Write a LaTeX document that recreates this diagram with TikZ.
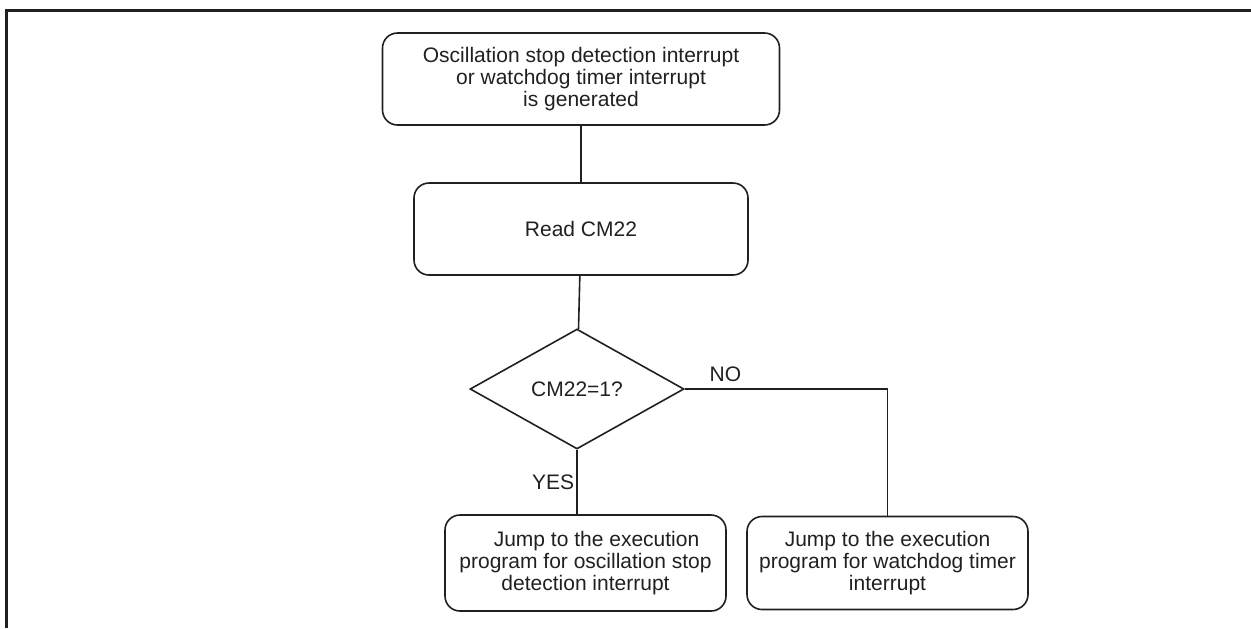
\documentclass[tikz,border=0pt]{standalone}
\usepackage{fontspec}
\setmainfont{Liberation Sans}
\usetikzlibrary{shapes.geometric}
\definecolor{FlowBlack}{RGB}{35,31,32}

\begin{document}
\begin{tikzpicture}[x=0.5pt, y=-0.5pt,
  flowbox/.style={draw=FlowBlack, line width=0.8pt, rounded corners=7.5pt, align=center, inner sep=2pt, text=FlowBlack, font=\fontsize{10.5}{11}\selectfont},
  flowdia/.style={draw=FlowBlack, line width=0.8pt, diamond, inner sep=0pt, text=FlowBlack, font=\fontsize{10.5}{11}\selectfont},
  flowline/.style={draw=FlowBlack, line width=0.8pt},
  flowlabel/.style={text=FlowBlack, font=\fontsize{10.5}{11}\selectfont}]
\pgfmathsetmacro{\xm}{581} % middle column (own definition)
\pgfmathsetmacro{\xr}{887.5} % right column
\pgfmathsetmacro{\yb}{563} % bottom row

\useasboundingbox (0,0) rectangle (1251,628);
\draw[color=FlowBlack, line width=1.5pt] (6,628) -- (6,10) -- (1251,10); % frame, open at right and bottom

\node[flowbox, minimum width=198.5pt, minimum height=46pt] (irq) at (\xm,79) {Oscillation stop detection interrupt\\or watchdog timer interrupt\\is generated};
\node[flowbox, minimum width=167pt, minimum height=46pt] (read) at (\xm,229) {Read CM22};
\node[flowdia, minimum width=107pt, minimum height=60pt] (check) at (577,389) {CM22=1?};
\node[flowbox, minimum width=140.5pt, minimum height=48pt] (jmposc) at (585.5,\yb) {\hspace*{11pt}Jump to the execution\\program for oscillation stop\\detection interrupt}; % YES branch
\node[flowbox, minimum width=140.5pt, minimum height=46.5pt] (jmpwdt) at (\xr,\yb) {Jump to the execution\\program for watchdog timer\\interrupt}; % NO branch

\draw[flowline] (irq) -- (read);
\draw[flowline] (read) -- (check);
\draw[flowline] (check.south) -- node[flowlabel, left, inner sep=1pt] {YES} (check.south |- jmposc.north);
\draw[flowline] (check.east) -| node[flowlabel, pos=0.1, above] {NO} (jmpwdt.north);

\end{tikzpicture}
\end{document}
